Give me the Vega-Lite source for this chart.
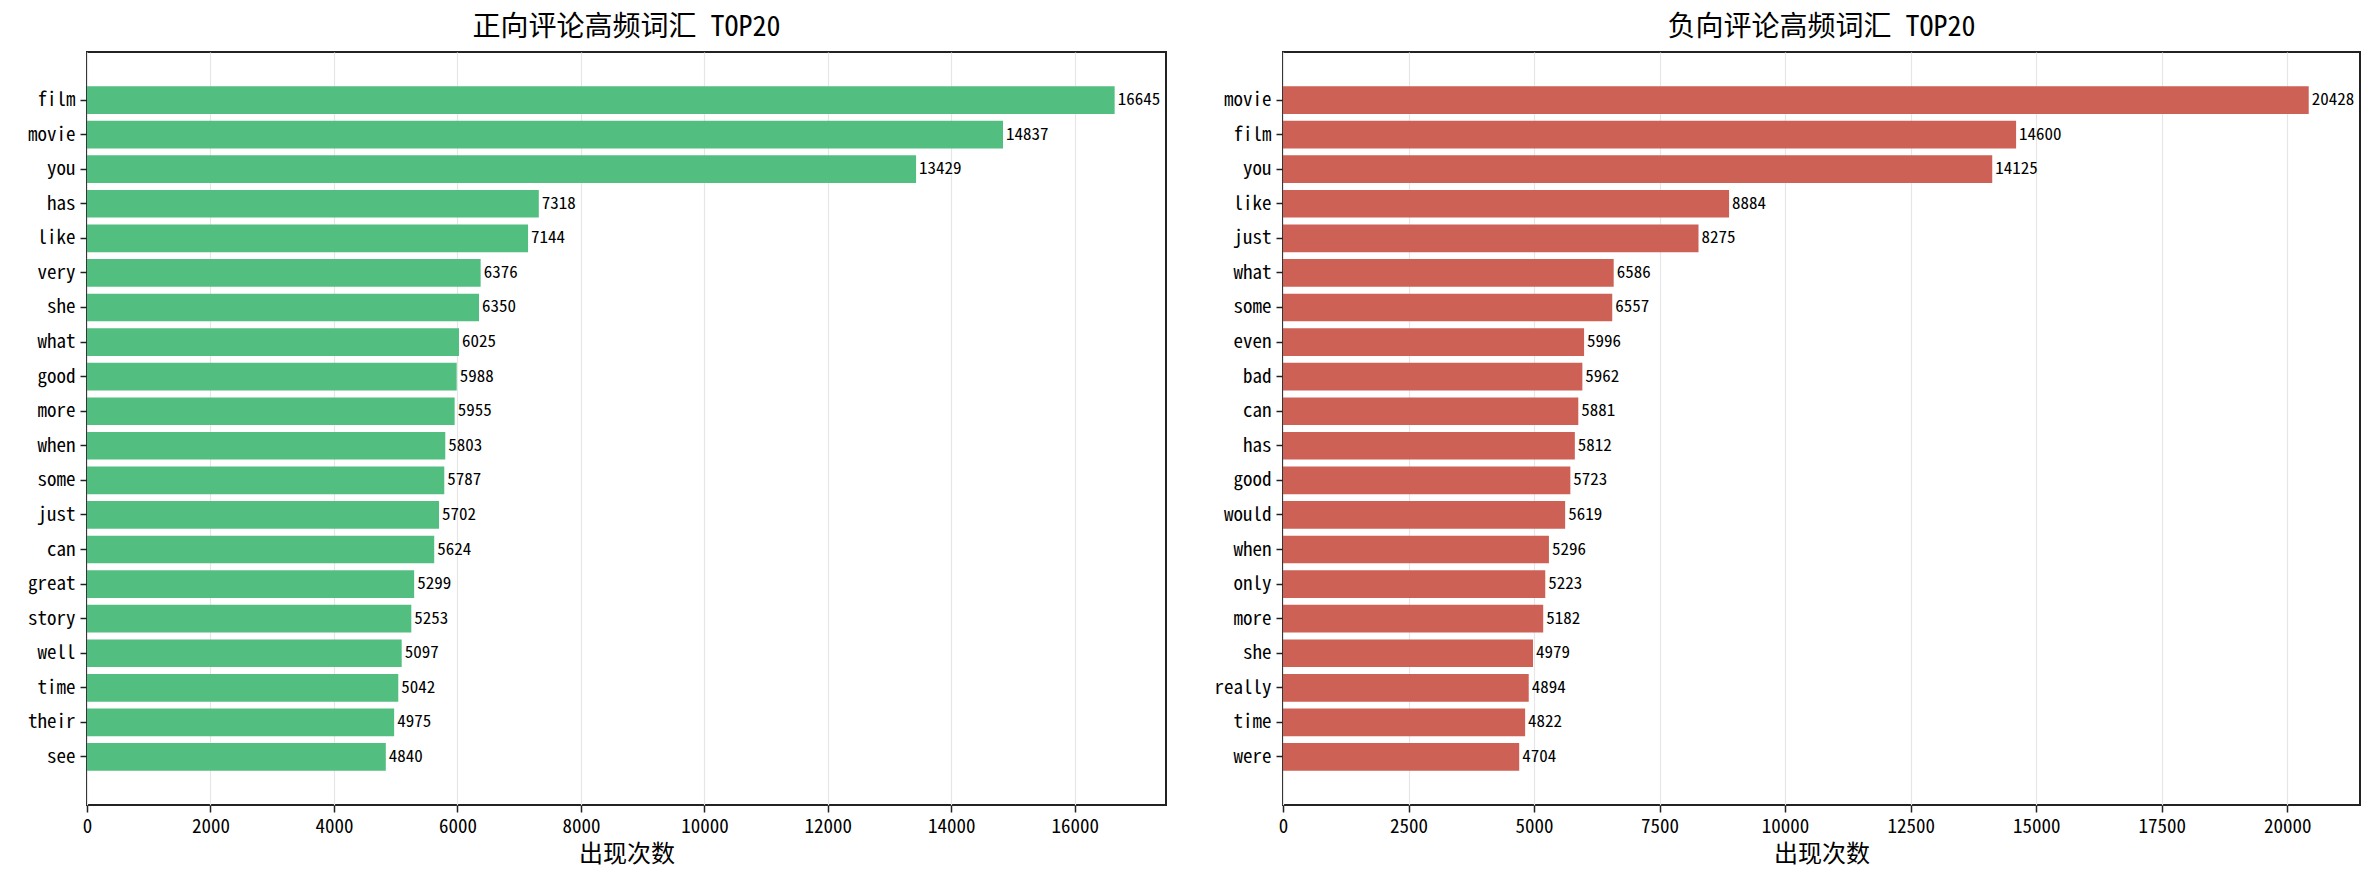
{
  "$schema": "https://vega.github.io/schema/vega-lite/v6.json",
  "background": "white",
  "padding": {"left": 6, "top": 13, "right": 10, "bottom": 0},
  "spacing": 35,
  "datasets": {
    "pos": [
      {"word": "film", "count": 16645}, {"word": "movie", "count": 14837}, {"word": "you", "count": 13429},
      {"word": "has", "count": 7318}, {"word": "like", "count": 7144}, {"word": "very", "count": 6376},
      {"word": "she", "count": 6350}, {"word": "what", "count": 6025}, {"word": "good", "count": 5988},
      {"word": "more", "count": 5955}, {"word": "when", "count": 5803}, {"word": "some", "count": 5787},
      {"word": "just", "count": 5702}, {"word": "can", "count": 5624}, {"word": "great", "count": 5299},
      {"word": "story", "count": 5253}, {"word": "well", "count": 5097}, {"word": "time", "count": 5042},
      {"word": "their", "count": 4975}, {"word": "see", "count": 4840}
    ],
    "neg": [
      {"word": "movie", "count": 20428}, {"word": "film", "count": 14600}, {"word": "you", "count": 14125},
      {"word": "like", "count": 8884}, {"word": "just", "count": 8275}, {"word": "what", "count": 6586},
      {"word": "some", "count": 6557}, {"word": "even", "count": 5996}, {"word": "bad", "count": 5962},
      {"word": "can", "count": 5881}, {"word": "has", "count": 5812}, {"word": "good", "count": 5723},
      {"word": "would", "count": 5619}, {"word": "when", "count": 5296}, {"word": "only", "count": 5223},
      {"word": "more", "count": 5182}, {"word": "she", "count": 4979}, {"word": "really", "count": 4894},
      {"word": "time", "count": 4822}, {"word": "were", "count": 4704}
    ]
  },
  "hconcat": [
    {
      "title": "正向评论高频词汇 TOP20",
      "width": 1079,
      "height": 753,
      "data": {"name": "pos"},
      "encoding": {
        "y": {"field": "word", "type": "nominal", "sort": null, "title": null,
              "scale": {"paddingInner": 0.2, "paddingOuter": 0.99}},
        "x": {"field": "count", "type": "quantitative", "title": "出现次数",
              "scale": {"domain": [0, 17477], "nice": false, "zero": true},
              "axis": {"values": [0, 2000, 4000, 6000, 8000, 10000, 12000, 14000, 16000], "format": "d"}}
      },
      "layer": [
        {"mark": {"type": "bar", "color": "#52be80", "opacity": 1}},
        {"mark": {"type": "text", "align": "left", "baseline": "middle", "dx": 3, "fontSize": 17,
                  "font": "Noto Sans Mono CJK SC, DejaVu Sans Mono", "color": "#000"},
         "encoding": {"text": {"field": "count", "type": "quantitative", "format": "d"}}}
      ]
    },
    {
      "title": "负向评论高频词汇 TOP20",
      "width": 1077,
      "height": 753,
      "data": {"name": "neg"},
      "encoding": {
        "y": {"field": "word", "type": "nominal", "sort": null, "title": null,
              "scale": {"paddingInner": 0.2, "paddingOuter": 0.99}},
        "x": {"field": "count", "type": "quantitative", "title": "出现次数",
              "scale": {"domain": [0, 21449], "nice": false, "zero": true},
              "axis": {"values": [0, 2500, 5000, 7500, 10000, 12500, 15000, 17500, 20000], "format": "d"}}
      },
      "layer": [
        {"mark": {"type": "bar", "color": "#cd6155", "opacity": 1}},
        {"mark": {"type": "text", "align": "left", "baseline": "middle", "dx": 3, "fontSize": 17,
                  "font": "Noto Sans Mono CJK SC, DejaVu Sans Mono", "color": "#000"},
         "encoding": {"text": {"field": "count", "type": "quantitative", "format": "d"}}}
      ]
    }
  ],
  "config": {
    "font": "Noto Sans Mono CJK SC, Noto Sans CJK SC, DejaVu Sans Mono",
    "view": {"stroke": "#222", "strokeWidth": 2},
    "title": {"fontSize": 28, "fontWeight": "normal", "color": "#000", "anchor": "middle", "offset": 10,
              "font": "Noto Sans Mono CJK SC, Noto Sans CJK SC"},
    "axis": {
      "domain": false,
      "labelFont": "Noto Sans Mono CJK SC, DejaVu Sans Mono",
      "labelFontSize": 19,
      "labelColor": "#000",
      "tickColor": "#222",
      "tickSize": 7,
      "tickWidth": 1.5,
      "labelPadding": 5,
      "titleFont": "Noto Sans Mono CJK SC, Noto Sans CJK SC",
      "titleFontSize": 24,
      "titleFontWeight": "normal",
      "titleColor": "#000"
    },
    "axisX": {"grid": true, "gridColor": "#e6e6e6", "gridWidth": 1.2, "labelFlush": false, "titlePadding": 6},
    "axisY": {"grid": false, "minExtent": 80, "maxExtent": 80}
  }
}
